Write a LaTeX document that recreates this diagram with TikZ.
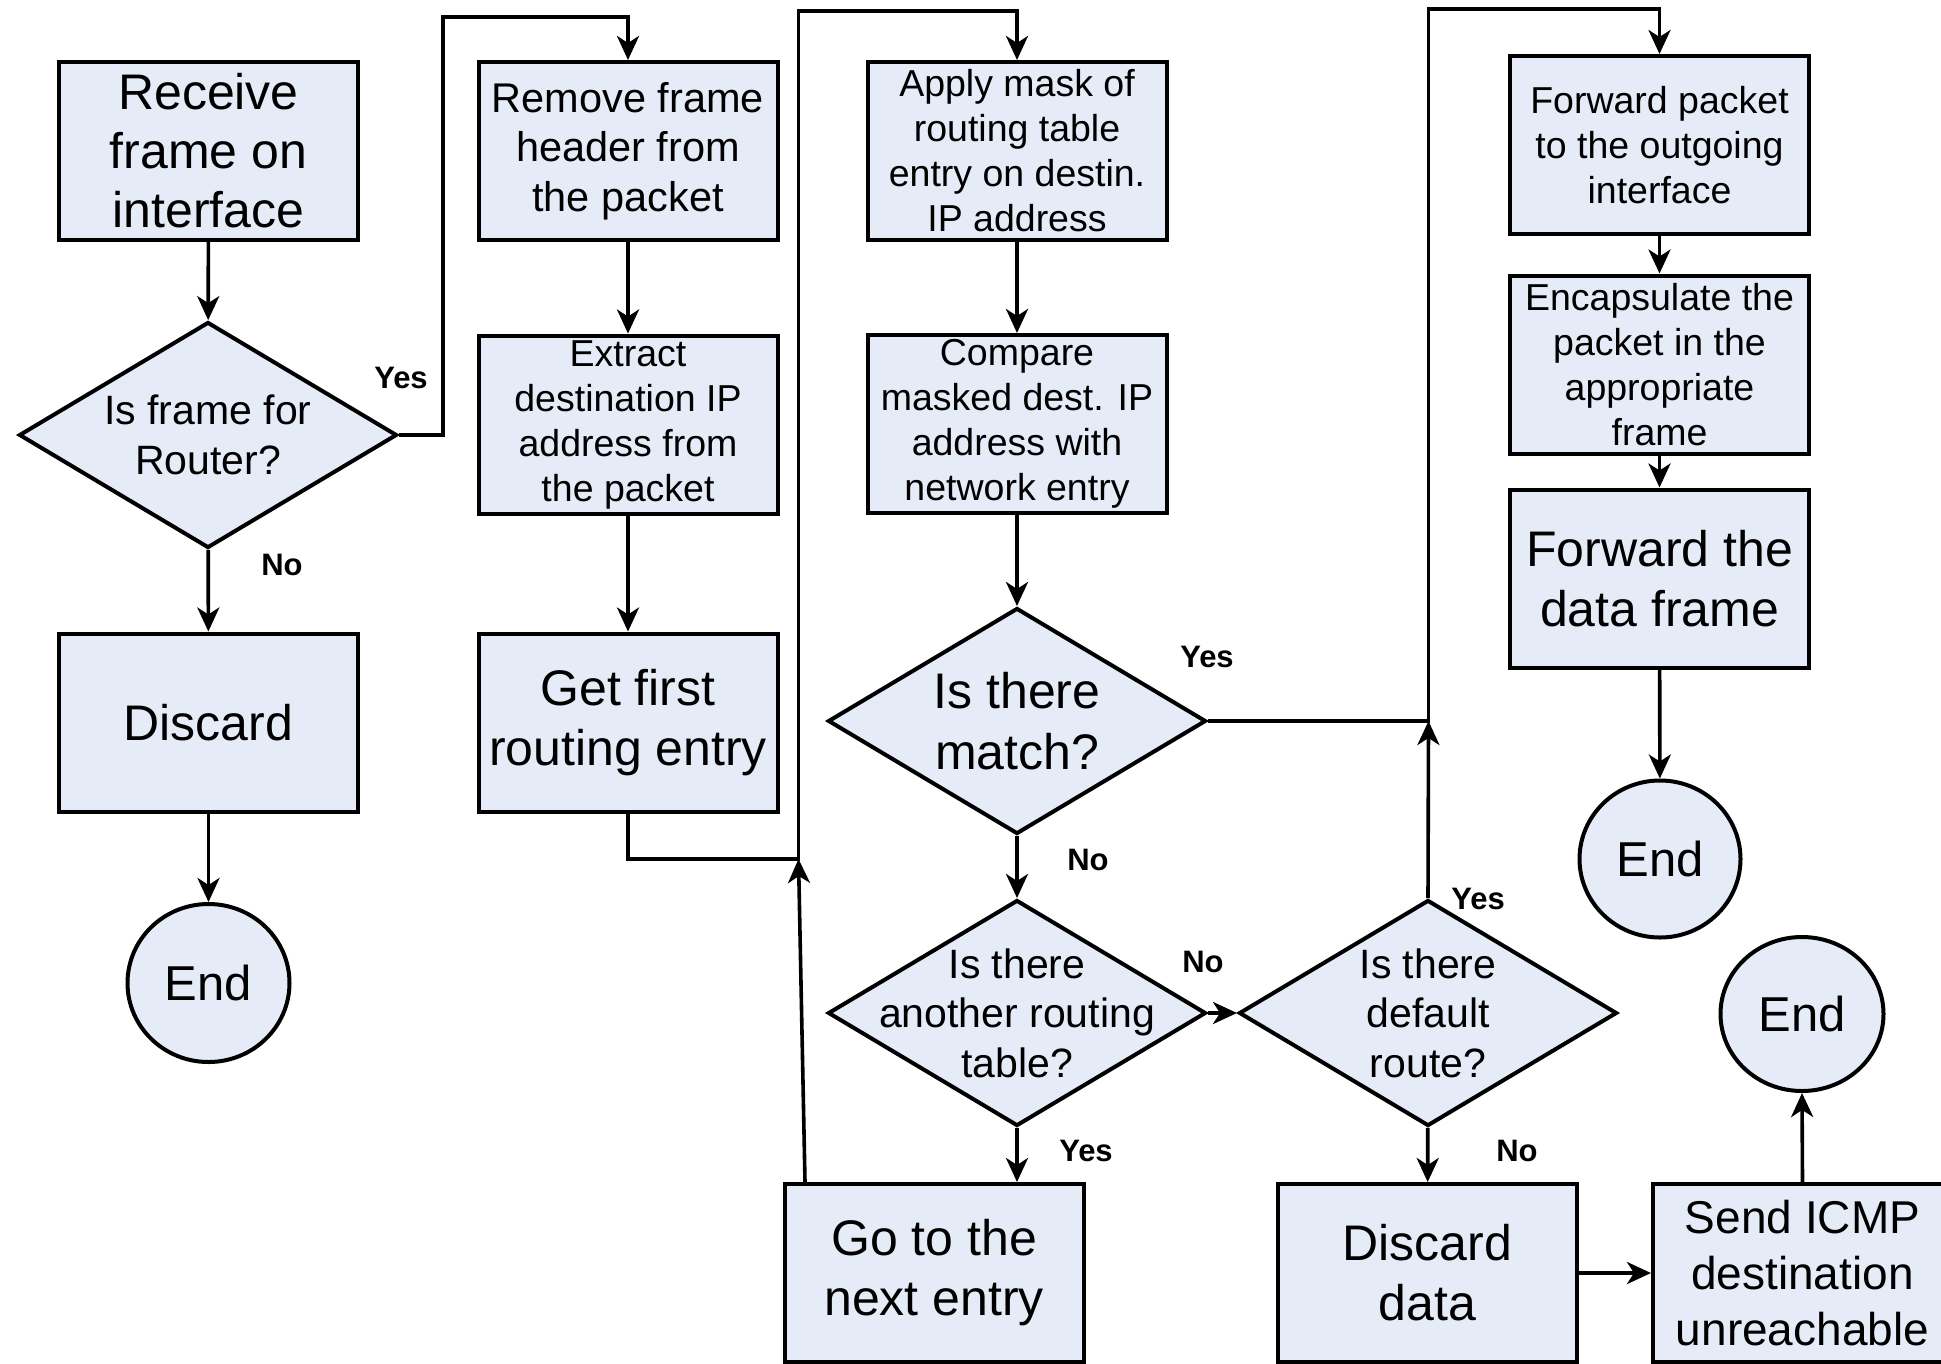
\documentclass[tikz,border=0pt]{standalone}
\usepackage{fontspec}
\setmainfont{Liberation Sans}
\usetikzlibrary{shapes.geometric, arrows.meta}
\definecolor{boxfill}{RGB}{230,236,247}
\newcommand{\fsz}[2]{\fontsize{#1}{#2}\selectfont}

\begin{document}
\begin{tikzpicture}[x=1pt, y=-1pt,
  shp/.style={draw, line width=4pt, fill=boxfill, inner sep=0pt},
  box/.style={shp, rectangle, align=center, minimum width=299pt, minimum height=178pt},
  dia/.style={shp, diamond, minimum width=378pt, minimum height=226pt},
  term/.style={shp, ellipse, minimum width=161pt, minimum height=157pt, font=\fsz{49}{59}},
  dtext/.style={align=center, inner sep=0pt},
  big/.style={font=\fsz{50}{60}},
  mid/.style={font=\fsz{41.5}{49.5}},
  sml/.style={font=\fsz{37.5}{45}},
  lbl/.style={font=\fsz{31}{36}\bfseries, inner sep=0pt},
  link/.style={line width=3.6pt},
  flow/.style={link, -{Stealth[length=24pt, width=22pt, inset=7pt]}},
]
\useasboundingbox (0,0) rectangle (1941,1363);

% column 1
\node[box, font=\fsz{50}{59}] (recv) at (208.5,151) {Receive\\frame on\\interface};
\node[dia, label={[dtext, font=\fsz{41}{49.5}]center:{Is frame for\\Router?}}] (q1) at (208,435) {};
\node[box, big] (disc1) at (208.5,722.5) {Discard};
\node[term, minimum width=162pt, minimum height=158pt] (end1) at (208.5,983) {End};

% column 2
\node[box, mid] (remove) at (628,151) {Remove frame\\header from\\the packet};
\node[box, sml] (extract) at (628,424.5) {Extract\\destination IP\\address from\\the packet};
\node[box, big] (getfirst) at (628,722.5) {Get first\\routing entry};

% column 3
\node[box, sml] (apply) at (1017,151) {Apply mask of\\routing table\\entry on destin.\\IP address};
\node[box, sml] (compare) at (1017,424) {Compare\\masked dest. IP\\address with\\network entry};
\node[dia, label={[dtext, font=\fsz{50}{61}]center:{Is there\\match?}}] (match) at (1017,721) {};
\node[dia, label={[dtext, font=\fsz{41}{49.5}]center:{Is there\\another routing\\table?}}] (another) at (1017,1013) {};
\node[box, big] (gonext) at (934,1273) {Go to the\\next entry};

% default route branch
\node[dia, label={[dtext, font=\fsz{41}{49.5}]center:{Is there\\default\\route?}}] (default) at (1428,1013) {};
\node[box, big] (discdata) at (1427.5,1273) {Discard\\data};
\node[box, font=\fsz{46}{56}] (icmp) at (1802.5,1273) {Send ICMP\\destination\\unreachable};
\node[term, minimum width=163pt, minimum height=154pt] (end3) at (1802,1014) {End};

% column 4
\node[box, sml] (fwdpkt) at (1659.5,145) {Forward packet\\to the outgoing\\interface};
\node[box, sml] (encap) at (1659.5,364.5) {Encapsulate the\\packet in the\\appropriate\\frame};
\node[box, big] (fwdframe) at (1659.5,578.5) {Forward the\\data frame};
\node[term] (end2) at (1660,859) {End};

% routing points of the connectors
\coordinate (t1) at (443,17);
\coordinate (j1) at (798.5,859);
\coordinate (t2) at (1017,11);
\coordinate (j2) at (1428.5,721);
\coordinate (t3) at (1659.5,9);

% connectors
\draw[flow] (recv) -- (q1);
\draw[flow] (q1.east) -| (t1) -| (remove.north);
\draw[flow] (q1) -- (disc1);
\draw[flow] (disc1) -- (end1);

\draw[flow] (remove) -- (extract);
\draw[flow] (extract) -- (getfirst);
\draw[flow] (getfirst.south) |- (j1) |- (t2) -- (apply.north);
\draw[flow] ([xshift=-129pt]gonext.north) -- (j1);

\draw[flow] (apply) -- (compare);
\draw[flow] (compare) -- (match);
\draw[flow] (match) -- (another);
\draw[flow] (another.south) -- (another.south |- gonext.north);
\draw[flow] (another.east) -- (default.west);

\draw[flow] (match.east) -- (j2) |- (t3) -- (fwdpkt.north);
\draw[flow] (default.north) -- (j2);
\draw[flow] (default) -- (discdata);
\draw[flow] (discdata.east) -- (icmp.west);
\draw[flow] (icmp.north) -- (end3.south);

\draw[flow] (fwdpkt) -- (encap);
\draw[flow] (encap) -- (fwdframe);
\draw[flow] (fwdframe) -- (end2);

% branch labels
\node[lbl] (lq1y) at (401,378) {Yes};
\node[lbl] (lq1n) at (282,565) {No};
\node[lbl] (lmy) at (1207,657) {Yes};
\node[lbl] (lmn) at (1088,860) {No};
\node[lbl] (lan) at (1203,962) {No};
\node[lbl] (lay) at (1086,1151) {Yes};
\node[lbl] (ldy) at (1478,899) {Yes};
\node[lbl] (ldn) at (1517,1151) {No};
\end{tikzpicture}
\end{document}
